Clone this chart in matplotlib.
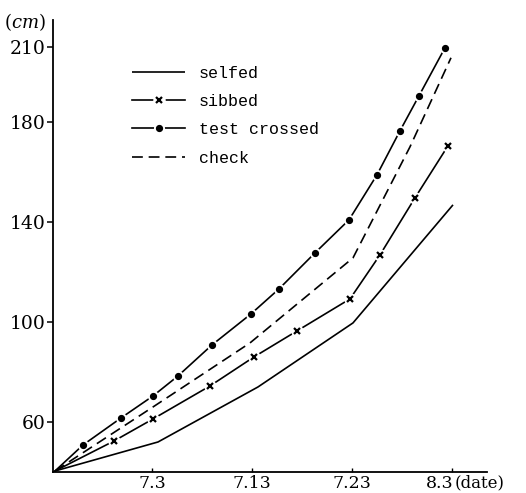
import matplotlib
matplotlib.use("Agg")
from matplotlib import pyplot as plt
from matplotlib.legend_handler import HandlerTuple

plt.rcParams['mathtext.fontset'] = 'dejavuserif'

# days on the drawn scale (7.3 -> 3, 7.13 -> 13, 7.23 -> 23, 8.3 -> 33)
start_day, start_cm = -6.7, 40.5

selfed_day = [start_day, 3.6, 13.6, 23.1, 33.1]
selfed_cm = [start_cm, 52.1, 74.1, 99.7, 146.9]

sibbed_day = [-0.8, 3.1, 8.8, 13.2, 17.5, 22.8, 25.8, 29.3, 32.6]
sibbed_cm = [52.5, 61.3, 74.5, 86.1, 96.5, 109.3, 126.9, 149.7, 170.5]

crossed_day = [-3.9, -0.1, 3.1, 5.6, 9.0, 12.9, 15.7, 19.3, 22.7, 25.5, 27.8, 29.7, 32.3]
crossed_cm = [50.9, 61.7, 70.5, 78.5, 90.9, 103.3, 113.3, 127.7, 140.9, 158.9, 176.5, 190.5, 209.7]

check_day = [start_day, 3.1, 12.8, 23.1, 28.8, 32.9]
check_cm = [start_cm, 66.1, 91.7, 125.7, 170.1, 205.7]

tick_days = [3, 13, 23]
tick_labels = ['7.3', '7.13', '7.23']
last_day, last_label = 33, '8.3'
y_ticks = [60, 100, 140, 180, 210]

fig = plt.figure(figsize=(5.26, 4.93), dpi=100)
ax = fig.add_axes([53 / 526, 21 / 493, 434 / 526, 452 / 493])

lw = 1.2
# selfed
l_self, = ax.plot(selfed_day, selfed_cm, color='black', lw=lw, solid_capstyle='butt')

# sibbed: solid line broken around x markers
l_sib, = ax.plot([start_day] + sibbed_day, [start_cm] + sibbed_cm, color='black', lw=lw)
h_sib, = ax.plot(sibbed_day, sibbed_cm, ls='none', marker='o', ms=9, mfc='white', mec='none')
m_sib, = ax.plot(sibbed_day, sibbed_cm, ls='none', marker='x', ms=4.5, mew=1.6, color='black')

# test crossed: solid line broken around dots
l_cr, = ax.plot([start_day] + crossed_day, [start_cm] + crossed_cm, color='black', lw=lw)
h_cr, = ax.plot(crossed_day, crossed_cm, ls='none', marker='o', ms=8, mfc='white', mec='none')
m_cr, = ax.plot(crossed_day, crossed_cm, ls='none', marker='o', ms=4.2, color='black')

# check
l_ck, = ax.plot(check_day, check_cm, color='black', lw=lw, dashes=(6.5, 3.5))

ax.set_xlim(-6.9, 36.5)
ax.set_ylim(40.1, 220.8)
ax.spines['top'].set_visible(False)
ax.spines['right'].set_visible(False)
ax.spines['left'].set_linewidth(1.3)
ax.spines['bottom'].set_linewidth(1.3)

ax.set_yticks(y_ticks)
ax.set_yticklabels([str(v) for v in y_ticks], fontfamily='DejaVu Serif', fontsize=13.5)
ax.tick_params(axis='y', direction='out', length=4, width=1.1, pad=1)

ax.set_xticks(tick_days + [last_day])
ax.set_xticklabels(tick_labels + [''], fontfamily='DejaVu Serif', fontsize=12.5)
ax.tick_params(axis='x', direction='in', length=3, width=1.0, pad=2)
ax.annotate(last_label, xy=(last_day, 0), xycoords=('data', 'axes fraction'),
            xytext=(1, -2), textcoords='offset points', ha='right', va='top',
            fontfamily='DejaVu Serif', fontsize=12.5)
ax.annotate('(date)', xy=(last_day, 0), xycoords=('data', 'axes fraction'),
            xytext=(2, -2), textcoords='offset points', ha='left', va='top',
            fontfamily='DejaVu Serif', fontsize=12)

fig.text(4 / 526, 1 - 22 / 493, r'($\mathit{cm}$)', fontfamily='DejaVu Serif',
         fontsize=13, ha='left', va='center')

leg = ax.legend([l_self, (l_sib, h_sib, m_sib), (l_cr, h_cr, m_cr), l_ck],
                ['selfed', 'sibbed', 'test crossed', 'check'],
                handler_map={tuple: HandlerTuple(ndivide=1)},
                loc='upper left', bbox_to_anchor=(0.182, 0.899), frameon=False,
                prop={'family': 'Liberation Mono', 'size': 12},
                handlelength=3.2, handletextpad=0.8, labelspacing=0.8,
                borderpad=0, borderaxespad=0)

fig.savefig('out.png', dpi=100)
